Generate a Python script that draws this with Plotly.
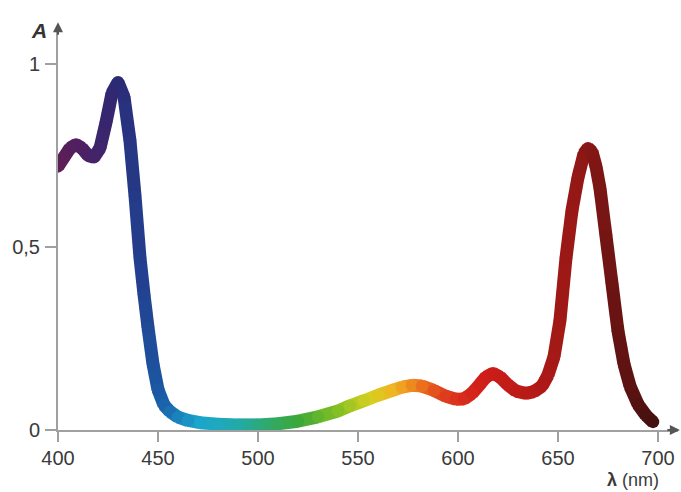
import plotly.graph_objects as go
from plotly.colors import sample_colorscale

# Data
wavelength = [400, 403, 406, 409, 412, 415, 418, 421, 424, 427, 430, 433, 436, 438.5, 441, 443,
              445, 447.5, 450, 453, 456, 460, 465, 471, 480, 490, 500, 510, 520, 530, 540,
              546, 553, 560, 567, 572, 577, 582, 588, 594, 599, 603, 607, 611, 614, 617.5,
              621, 625, 629, 634, 638, 642, 645, 648, 651, 654, 657, 660, 663, 665, 667,
              669, 671, 674, 677, 680, 683, 686, 690, 694, 697.5]
absorbance = [0.72, 0.745, 0.77, 0.78, 0.77, 0.75, 0.745, 0.77, 0.84, 0.92, 0.95, 0.91, 0.79, 0.64, 0.47, 0.37,
              0.28, 0.18, 0.11, 0.068, 0.05, 0.035, 0.026, 0.02, 0.016, 0.014, 0.014, 0.017, 0.024, 0.036, 0.052,
              0.066, 0.08, 0.095, 0.108, 0.117, 0.122, 0.12, 0.108, 0.092, 0.084, 0.085, 0.1, 0.125, 0.145, 0.155,
              0.145, 0.123, 0.106, 0.1, 0.105, 0.12, 0.15, 0.2, 0.3, 0.47, 0.6, 0.69, 0.755, 0.77, 0.76,
              0.72, 0.66, 0.53, 0.4, 0.27, 0.18, 0.12, 0.07, 0.04, 0.022]

x_ticks = [400, 450, 500, 550, 600, 650, 700]
y_ticks = [0, 0.5, 1]
y_tick_labels = ["0", "0,5", "1"]

# wavelength colour map (style)
stops = [(400, "#5e1d56"), (415, "#4a2166"), (430, "#2b2a74"), (442, "#22408f"), (452, "#1b5ea8"),
         (462, "#1a8cc0"), (472, "#1ba8cc"), (490, "#22aaa8"), (505, "#30aa6a"), (520, "#3ca838"),
         (540, "#84c024"), (556, "#d6d020"), (568, "#f0b420"), (580, "#ec7a1e"), (592, "#e0401e"),
         (610, "#d21f1a"), (635, "#b81a17"), (660, "#931816"), (680, "#661412"), (700, "#401010")]
cscale = [[(w - 400) / 300, c] for w, c in stops]

def col(w):
    return sample_colorscale(cscale, [(w - 400) / 300])[0]

fig = go.Figure()
for i in range(len(wavelength) - 1):
    fig.add_trace(go.Scatter(
        x=wavelength[i:i + 2], y=absorbance[i:i + 2], mode="lines",
        line=dict(color=col((wavelength[i] + wavelength[i + 1]) / 2), width=13),
        hoverinfo="skip", showlegend=False))
fig.add_trace(go.Scatter(
    x=wavelength, y=absorbance, mode="markers",
    marker=dict(size=12.5, color=[col(w) for w in wavelength], line=dict(width=0)),
    showlegend=False, hoverinfo="skip"))

font = dict(family="Liberation Sans, Arial, sans-serif", size=20, color="#3a3a3a")
axis_color = "#a0a0a0"

fig.update_layout(
    width=681, height=492,
    margin=dict(l=58, r=3, t=31, b=62),
    paper_bgcolor="white", plot_bgcolor="white",
    xaxis=dict(range=[400, 710], tickvals=x_ticks, ticks="outside", ticklen=10, tickwidth=2,
               tickcolor=axis_color, showline=True, linecolor=axis_color, linewidth=2,
               showgrid=False, zeroline=False, tickfont=font, ticklabelstandoff=-1),
    yaxis=dict(range=[0, 1.09], tickvals=y_ticks, ticktext=y_tick_labels, ticks="outside",
               ticklen=11, tickwidth=2, tickcolor=axis_color, showline=True, linecolor=axis_color,
               linewidth=2, showgrid=False, zeroline=False, tickfont=font, ticklabelstandoff=1),
    annotations=[
        dict(xref="paper", yref="paper", x=0, y=1.022, ax=0, ay=14, showarrow=True, arrowhead=2,
             arrowsize=1, arrowwidth=2, arrowcolor="#555555", text=""),
        dict(xref="paper", yref="paper", x=1.003, y=0, ax=-14, ay=0, showarrow=True, arrowhead=2,
             arrowsize=1, arrowwidth=2, arrowcolor="#555555", text=""),
        dict(xref="paper", yref="paper", x=0, y=1.0, xanchor="right", yanchor="middle", xshift=-9,
             yshift=1, text="<b><i>A</i></b>", showarrow=False,
             font=dict(family="Liberation Sans, Arial, sans-serif", size=21, color="#333333")),
        dict(xref="paper", yref="paper", x=(606 - 58) / 620, y=0, xanchor="left", yanchor="top",
             yshift=-39, borderpad=0, text="<b>λ</b> (nm)", showarrow=False,
             font=dict(family="Liberation Sans, Arial, sans-serif", size=18, color="#3a3a3a")),
    ],
)

fig.write_html("out.html")
